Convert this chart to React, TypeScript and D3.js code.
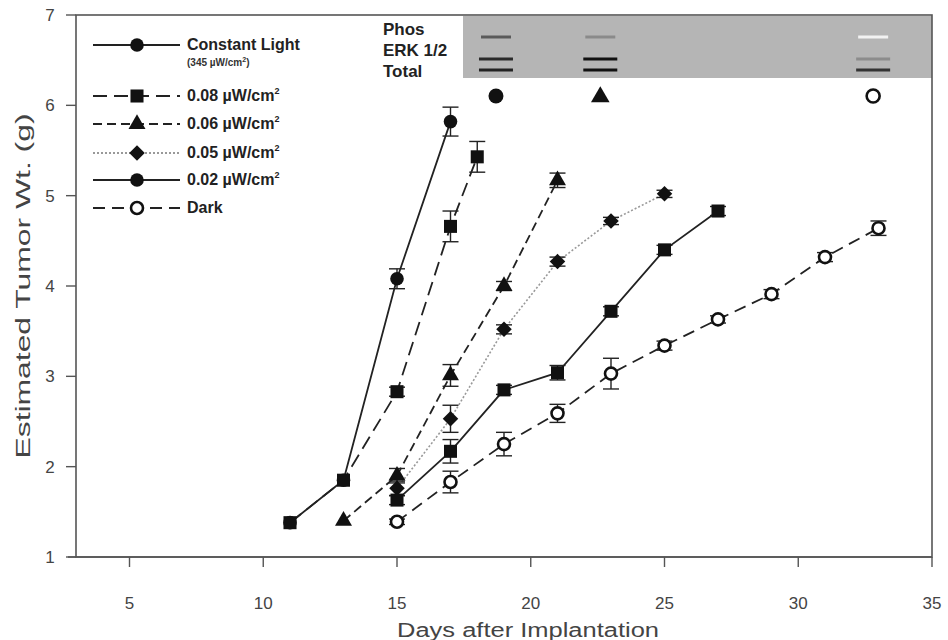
import * as d3 from "d3";

// x: days after implantation, y: estimated tumour weight (g)
const xTicks = [5, 10, 15, 20, 25, 30, 35];
const yTicks = [1, 2, 3, 4, 5, 6, 7];

const constantDays = [11, 13, 15, 17];
const constantWt = [1.38, 1.85, 4.08, 5.82];
const constantErr = [0, 0, 0.11, 0.16];

const uw008Days = [11, 13, 15, 17, 18];
const uw008Wt = [1.38, 1.85, 2.83, 4.66, 5.43];
const uw008Err = [0, 0, 0.05, 0.17, 0.17];

const uw006Days = [13, 15, 17, 19, 21];
const uw006Wt = [1.4, 1.9, 3.01, 4.0, 5.17];
const uw006Err = [0, 0.08, 0.12, 0.05, 0.08];

const uw005Days = [15, 17, 19, 21, 23, 25];
const uw005Wt = [1.76, 2.53, 3.52, 4.27, 4.72, 5.02];
const uw005Err = [0.08, 0.15, 0.05, 0.05, 0.04, 0.04];

const uw002Days = [15, 17, 19, 21, 23, 25, 27];
const uw002Wt = [1.63, 2.17, 2.85, 3.04, 3.72, 4.4, 4.83];
const uw002Err = [0.05, 0.13, 0.05, 0.08, 0.05, 0.05, 0.05];

const darkDays = [15, 17, 19, 21, 23, 25, 27, 29, 31, 33];
const darkWt = [1.39, 1.83, 2.25, 2.59, 3.03, 3.34, 3.63, 3.91, 4.32, 4.64];
const darkErr = [0.03, 0.12, 0.13, 0.1, 0.17, 0.05, 0.04, 0.05, 0.05, 0.08];

// western blot inset lanes (positioned on the day axis)
const laneDays = [18.7, 22.6, 32.8];
const laneMarkers = ["circle", "triangle", "open"];
const phosBand = ["#5a5a5a", "#8a8a8a", "#f2f2f2"];
const totalUpper = ["#2a2a2a", "#111", "#8c8c8c"];
const totalLower = ["#222", "#111", "#333"];

type Shape = "circle" | "square" | "triangle" | "diamond" | "open";

interface Series {
  label: string;
  sub?: string;
  days: number[];
  wt: number[];
  err: number[];
  dash: string;
  color: string;
  shape: Shape;
  legendShape: Shape;
}

const series: Series[] = [
  { label: "Constant Light", sub: "(345 \u00b5W/cm", days: constantDays, wt: constantWt, err: constantErr, dash: "", color: "#222", shape: "circle", legendShape: "circle" },
  { label: "0.08 \u00b5W/cm", days: uw008Days, wt: uw008Wt, err: uw008Err, dash: "14,7", color: "#222", shape: "square", legendShape: "square" },
  { label: "0.06 \u00b5W/cm", days: uw006Days, wt: uw006Wt, err: uw006Err, dash: "9,5", color: "#222", shape: "triangle", legendShape: "triangle" },
  { label: "0.05 \u00b5W/cm", days: uw005Days, wt: uw005Wt, err: uw005Err, dash: "2,2", color: "#999", shape: "diamond", legendShape: "diamond" },
  { label: "0.02 \u00b5W/cm", days: uw002Days, wt: uw002Wt, err: uw002Err, dash: "", color: "#222", shape: "square", legendShape: "circle" },
  { label: "Dark", days: darkDays, wt: darkWt, err: darkErr, dash: "12,7", color: "#222", shape: "open", legendShape: "open" },
];

const W = 948;
const H = 640;
const left = 76;
const right = 932;
const top = 15;
const bottom = 557;

const x = d3.scaleLinear([3, 35], [left, right]);
const y = d3.scaleLinear([1, 7], [bottom, top]);

const Marker = ({ shape, cx, cy }: { shape: Shape; cx: number; cy: number }) => {
  if (shape === "open")
    return <circle cx={cx} cy={cy} r={6} fill="#fff" stroke="#111" strokeWidth={2.6} />;
  if (shape === "circle") return <circle cx={cx} cy={cy} r={6.8} fill="#111" />;
  const sym = shape === "triangle" ? d3.symbolTriangle : d3.symbolSquare;
  const size = shape === "triangle" ? 125 : shape === "diamond" ? 120 : 170;
  const path = d3.symbol(sym, size)() ?? "";
  const rot = shape === "diamond" ? " rotate(45)" : "";
  return <path d={path} transform={`translate(${cx},${cy})${rot}`} fill="#111" />;
};

const font = "'Liberation Sans', Arial, sans-serif";

export default function App() {
  const legendRows = [45, 96, 124, 153, 180, 208];
  return (
    <svg
      width={W}
      height={H}
      style={{ position: "absolute", left: 0, top: 0, background: "#fff" }}
      fontFamily={font}
    >
      <rect width={W} height={H} fill="#fff" />

      {/* inset blot */}
      <rect x={463} y={top + 1} width={right - 463} height={62} fill="#b5b5b5" />
      <g fontSize={17} fontWeight="bold" fill="#222">
        <text x={383} y={35}>Phos</text>
        <text x={383} y={56}>ERK 1/2</text>
        <text x={383} y={77}>Total</text>
      </g>
      {laneDays.map((d, i) => {
        const cx = x(d);
        return (
          <g key={i}>
            <line x1={cx - 15} x2={cx + 15} y1={37} y2={37} stroke={phosBand[i]} strokeWidth={3} />
            <line x1={cx - 17} x2={cx + 17} y1={59} y2={59} stroke={totalUpper[i]} strokeWidth={3} />
            <line x1={cx - 17} x2={cx + 17} y1={70} y2={70} stroke={totalLower[i]} strokeWidth={3} />
            {laneMarkers[i] === "circle" && <circle cx={cx} cy={96} r={7.5} fill="#111" />}
            {laneMarkers[i] === "triangle" && (
              <path d={d3.symbol(d3.symbolTriangle, 150)() ?? ""} transform={`translate(${cx},97)`} fill="#111" />
            )}
            {laneMarkers[i] === "open" && (
              <circle cx={cx} cy={96} r={6.5} fill="#fff" stroke="#111" strokeWidth={2.6} />
            )}
          </g>
        );
      })}

      {/* frame */}
      <rect x={left} y={top} width={right - left} height={bottom - top} fill="none" stroke="#555" strokeWidth={1.6} />
      <line x1={68} x2={right} y1={bottom} y2={bottom} stroke="#555" strokeWidth={1.6} />

      {/* y axis */}
      {yTicks.map((t) => (
        <g key={t}>
          <line x1={left - 10} x2={left} y1={y(t)} y2={y(t)} stroke="#555" strokeWidth={1.4} />
          <text x={50} y={y(t) + 6} fontSize={17} fill="#444" textAnchor="middle">{t}</text>
        </g>
      ))}
      {/* x axis */}
      {xTicks.map((t) => (
        <g key={t}>
          <line x1={x(t)} x2={x(t)} y1={bottom} y2={bottom + 10} stroke="#555" strokeWidth={1.4} />
          <text x={x(t)} y={bottom + 52} fontSize={17} fill="#444" textAnchor="middle">{t}</text>
        </g>
      ))}
      <text
        x={528}
        y={637}
        fontSize={20}
        fill="#444"
        textAnchor="middle"
        textLength={262}
        lengthAdjust="spacingAndGlyphs"
      >
        Days after Implantation
      </text>
      <text
        transform={`translate(30,${(top + bottom) / 2}) rotate(-90)`}
        fontSize={21}
        fill="#444"
        textAnchor="middle"
        textLength={345}
        lengthAdjust="spacingAndGlyphs"
      >
        Estimated Tumor Wt. (g)
      </text>

      {/* series lines */}
      {series.map((s, i) => {
        const pts = s.days.map((d, j) => [x(d), y(s.wt[j])] as [number, number]);
        return (
          <path
            key={i}
            d={d3.line()(pts) ?? ""}
            fill="none"
            stroke={s.color}
            strokeWidth={s.dash === "2,2" ? 1.6 : 1.8}
            strokeDasharray={s.dash || undefined}
          />
        );
      })}
      {/* error bars */}
      {series.map((s, i) =>
        s.days.map((d, j) =>
          s.err[j] > 0 ? (
            <g key={`${i}-${j}`} stroke="#222" strokeWidth={1.4}>
              <line x1={x(d)} x2={x(d)} y1={y(s.wt[j] - s.err[j])} y2={y(s.wt[j] + s.err[j])} />
              <line x1={x(d) - 8} x2={x(d) + 8} y1={y(s.wt[j] - s.err[j])} y2={y(s.wt[j] - s.err[j])} />
              <line x1={x(d) - 8} x2={x(d) + 8} y1={y(s.wt[j] + s.err[j])} y2={y(s.wt[j] + s.err[j])} />
            </g>
          ) : null
        )
      )}
      {/* markers */}
      {series.map((s, i) =>
        s.days.map((d, j) => <Marker key={`${i}-${j}`} shape={s.shape} cx={x(d)} cy={y(s.wt[j])} />)
      )}

      {/* legend */}
      {series.map((s, i) => {
        const ly = legendRows[i];
        return (
          <g key={i}>
            <line
              x1={93}
              x2={180}
              y1={ly}
              y2={ly}
              stroke={s.color}
              strokeWidth={1.8}
              strokeDasharray={s.dash || undefined}
            />
            <Marker shape={s.legendShape} cx={137} cy={ly} />
            <text x={187} y={ly + 5} fontSize={16} fontWeight="bold" fill="#222">
              {s.label}
              {s.label.endsWith("cm") && (
                <tspan fontSize={9} dy={-7}>2</tspan>
              )}
            </text>
            {s.sub && (
              <text x={187} y={ly + 21} fontSize={10} fontWeight="bold" fill="#333">
                {s.sub}
                <tspan fontSize={7} dy={-4}>2</tspan>
                <tspan dy={4}>)</tspan>
              </text>
            )}
          </g>
        );
      })}
    </svg>
  );
}
